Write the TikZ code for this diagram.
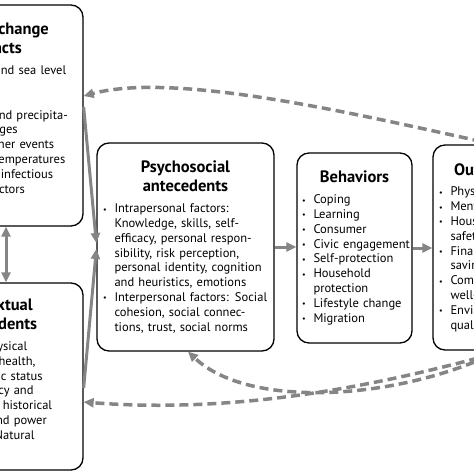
\documentclass[tikz,border=0pt]{standalone}
\usepackage{fontspec}
\setmainfont{PT Sans}
\usetikzlibrary{arrows.meta}
\definecolor{linkgray}{RGB}{133,133,133}
\newcommand{\bitem}[1]{\par\noindent\makebox[11.5pt][l]{\raisebox{0.1ex}{\footnotesize\textbullet}}\mbox{#1}}
\newcommand{\bline}[1]{\par\noindent\hspace*{11.5pt}\mbox{#1}}
\newcommand{\btitle}[1]{{\centering\fontsize{16.5}{19}\selectfont\bfseries #1\par}\vspace{6pt}}

\begin{document}
\begin{tikzpicture}[x=1pt,y=-1pt]
  \tikzstyle{box}  = [draw=black,line width=1.3pt,rounded corners=12pt,inner xsep=6pt,inner ysep=0pt,font=\fontsize{12.5}{14.8}\selectfont]
  \tikzstyle{link} = [draw=linkgray,line width=3pt,-{Triangle[length=10pt,width=9pt]}]
  \tikzstyle{both} = [link,{Triangle[length=10pt,width=9pt]}-{Triangle[length=10pt,width=9pt]}]
  \tikzstyle{back} = [link,dash pattern=on 9pt off 5pt,line width=3.5pt]
  \useasboundingbox (0,0) rectangle (474,474);
  % left column, cut by the page edge
  \path (-5.5,115.5) node[box,text width=165pt,minimum height=221pt](clim) {
    \btitle{Climate change\\impacts}
    \bitem{Temperature and sea level}
    \bline{rise}
    \bitem{Air pollution}
    \bitem{Storm, wind and precipita-}
    \bline{tion rate changes}
    \bitem{Extreme weather events}
    \bitem{Rising mean temperatures}
    \bitem{Spread of the infectious}
    \bline{disease via vectors}
    \bline{\mbox{}}};
  \path (-5.5,376.5) node[box,text width=165pt,minimum height=187pt](ctx) {
    \btitle{Contextual\\antecedents}
    \bitem{Social and physical}
    \bline{environment, health,}
    \bline{socio-economic status}
    \bitem{Economy, policy and}
    \bline{infrastructure, historical}
    \bline{inequalities and power}
    \bitem{Urban, rural, Natural}
    \bline{environments}};
  % middle and right
  \path (185.5,247) node[box,text width=165pt,minimum height=208pt](psy) {
    \btitle{Psychosocial\\antecedents}
    \bitem{Intrapersonal factors:}
    \bline{Knowledge, skills, self-}
    \bline{efficacy, personal respon-}
    \bline{sibility, risk perception,}
    \bline{personal identity, cognition}
    \bline{and heuristics, emotions}
    \bitem{Interpersonal factors: Social}
    \bline{cohesion, social connec-}
    \bline{tions, trust, social norms}};
  \path (354.5,248) node[box,inner xsep=5pt,text width=105pt,minimum height=190pt](beh) {
    \btitle{Behaviors}
    \bitem{Coping}
    \bitem{Learning}
    \bitem{Consumer}
    \bitem{Civic engagement}
    \bitem{Self-protection}
    \bitem{Household}
    \bline{protection}
    \bitem{Lifestyle change}
    \bitem{Migration}};
  \path (489,247.5) node[box,text width=100pt,minimum height=205pt](out) {
    \btitle{Outcomes}
    \bitem{Physical health}
    \bitem{Mental health}
    \bitem{Housing and}
    \bline{safety}
    \bitem{Financial}
    \bline{savings}
    \bitem{Community}
    \bline{well-being}
    \bitem{Environmental}
    \bline{quality}};
  % solid links
  \draw[link] (psy.east) -- (beh.west |- psy.east);
  \draw[link] (beh.east) -- (out.west |- beh.east);
  \draw[link] ([yshift=8.5pt]clim.east) -- ([yshift=4pt]psy.west);
  \draw[link] ([yshift=-11.5pt]ctx.east) -- ([yshift=-2pt]psy.west);
  \coordinate (v) at (6,0);
  \draw[both] (clim.south -| v) -- (ctx.north -| v);
  % feedback
  \draw[back] ([xshift=6pt]out.north) .. controls (380,120) and (180,70) .. ([yshift=19.5pt]clim.east);
  \draw[back] ([xshift=11pt]out.south) .. controls (400,400) and (250,410) .. ([xshift=2.5pt]psy.south);
  \draw[back] ([xshift=16pt]out.south) .. controls (400,380) and (250,415) .. ([yshift=-25.5pt]ctx.east);
\end{tikzpicture}
\end{document}
